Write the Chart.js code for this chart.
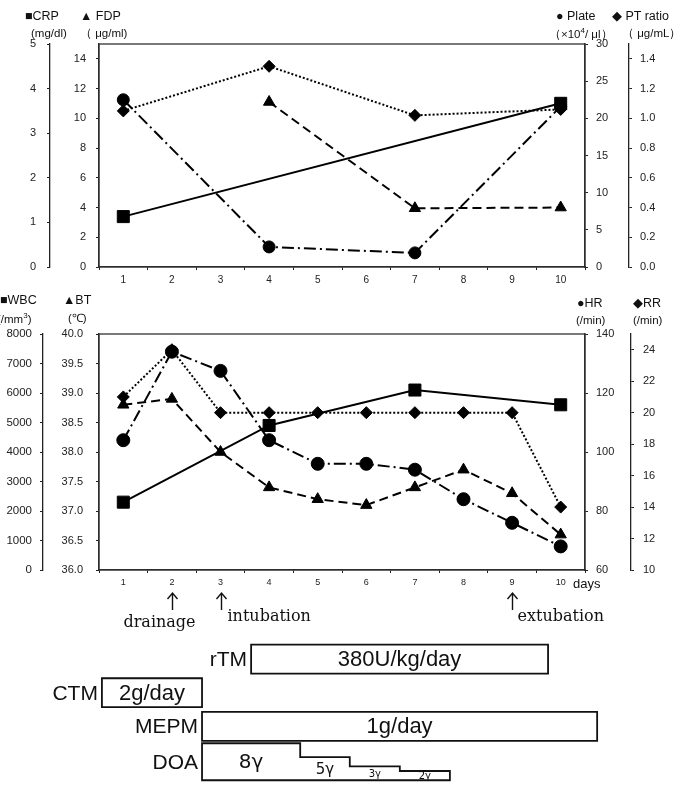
<!DOCTYPE html>
<html><head><meta charset="utf-8">
<script src="https://cdn.jsdelivr.net/npm/chart.js@4"></script>
<style>
html,body{margin:0;padding:0;background:#fff;}
#wrap{position:relative;width:678px;height:788px;overflow:hidden;background:#fff;font-family:'Liberation Sans',Arial,sans-serif;color:#111;}
canvas{position:absolute;left:0;}
.t{position:absolute;white-space:nowrap;line-height:1;}
.lg{font-size:12.5px;}
.un{font-size:11.5px;}
</style></head><body>
<div id="wrap">
<canvas id="c1" width="678" height="290" style="top:0"></canvas>
<canvas id="c2" width="678" height="315" style="top:285px"></canvas>
<canvas id="c3" width="678" height="203" style="top:585px"></canvas>

<span class="t lg" style="left:25px;top:10px">■CRP</span>
<span class="t lg" style="left:80px;top:10px">▲ FDP</span>
<span class="t un" style="left:31px;top:28px">(mg/dl)</span>
<span class="t un" style="left:80px;top:28px">（ μg/ml)</span>
<span class="t lg" style="left:556px;top:10px">● Plate</span>
<span class="t lg" style="left:612px;top:10px">◆ PT ratio</span>
<span class="t un" style="left:549px;top:27px">（×10<sup style="font-size:8px">4</sup>/ μl）</span>
<span class="t un" style="left:622px;top:28px">（ μg/mL）</span>

<span class="t lg" style="left:0px;top:294px">■WBC</span>
<span class="t lg" style="left:63px;top:294px">▲BT</span>
<span class="t un" style="left:-3px;top:312px">(/mm<sup style="font-size:8px">3</sup>)</span>
<span class="t un" style="left:68px;top:313px">(℃)</span>
<span class="t lg" style="left:577px;top:297px">●HR</span>
<span class="t lg" style="left:633px;top:297px">◆RR</span>
<span class="t un" style="left:576px;top:315px">(/min)</span>
<span class="t un" style="left:633px;top:315px">(/min)</span>
<span class="t" style="left:573px;top:577px;font-size:13px">days</span>
</div>
<script>
// ---------- data ----------
const days = ['1','2','3','4','5','6','7','8','9','10'];
// top chart
const crp   = [1.13, null, null, null, null, null, null, null, null, 3.67];
const fdp   = [null, null, null, 11.1, null, null, 3.95, null, null, 4.0];
const plate = [22.5, null, null, 2.7, null, null, 1.9, null, null, 21.6];
const ptRatio = [1.05, null, null, 1.35, null, null, 1.02, null, null, 1.06];
// bottom chart
const wbc = [2300, null, null, 4900, null, null, 6100, null, null, 5600];
const bt  = [38.8, 38.9, 38.0, 37.4, 37.2, 37.1, 37.4, 37.7, 37.3, 36.6];
const hr  = [104, 134, 127.5, 104, 96, 96, 94, 84, 76, 68];
const rr  = [21, 24, 20, 20, 20, 20, 20, 20, 20, 14];
// tick values
const crpTicks = [0,1,2,3,4,5];
const fdpTicks = [0,2,4,6,8,10,12,14];
const plateTicks = [0,5,10,15,20,25,30];
const ptTicks = [0,0.2,0.4,0.6,0.8,1.0,1.2,1.4];
const wbcTicks = [0,1000,2000,3000,4000,5000,6000,7000,8000];
const btTicks = [36,36.5,37,37.5,38,38.5,39,39.5,40];
const hrTicks = [60,80,100,120,140];
const rrTicks = [10,12,14,16,18,20,22,24];
// treatments (day positions)
const treatNames = ['rTM','CTM','MEPM'];
const treatStart = [3.63, 0.56, 2.62];
const treatEnd   = [9.74, 2.62, 10.75];
const treatDose  = ['380U/kg/day','2g/day','1g/day'];
const doaStart = [2.62, 4.64, 5.66, 6.69];
const doaEnd = 7.72;
const doaDose = [8,5,3,2];
const doaLabels = ['8γ','5γ','3γ','2γ'];
const eventDays = [2,3,9];
const eventLabels = ['drainage','intubation','extubation'];

// ---------- styles ----------
Chart.defaults.font.family = "'Liberation Sans', Arial, sans-serif";
Chart.defaults.color = '#222';
const INK = '#222';
const dashes = {solid:[], dashed:[9,5], dashdot:[12,4,2,4], dotted:[2,2]};

function yAxis(pos, min, max, tickVals, width, pad, fmt, fs) {
  return {
    type:'linear', position:pos, min:min, max:max,
    afterBuildTicks: s => { s.ticks = tickVals.map(v => ({value:v})); },
    afterFit: s => { s.width = width; },
    grid:{drawOnChartArea:false, drawTicks:true, tickLength:3, color:INK, lineWidth:1},
    border:{display:true, color:INK, width:1.3},
    ticks:{padding:pad, font:{size:fs || 11}, color:INK, callback: fmt || (v => String(v))}
  };
}
function xAxis(h, fs) {
  return {
    type:'category', offset:true,
    grid:{offset:true, drawOnChartArea:false, tickLength:3, color:INK},
    border:{display:true, color:INK, width:1.3},
    ticks:{font:{size:fs}, padding:4, color:INK, maxRotation:0, autoSkip:false},
    afterFit: s => { s.height = h; }
  };
}
function ds(data, axis, dash, style, radius) {
  return {data:data, yAxisID:axis, borderColor:'#000', backgroundColor:'#000',
    borderWidth:2, borderDash:dash, pointStyle:style, pointRadius:radius,
    pointBackgroundColor:'#000', pointBorderColor:'#000', pointBorderWidth:1,
    spanGaps:true, tension:0, fill:false};
}
const framePlugin = {
  id:'frame',
  beforeDatasetsDraw(chart) {
    const a = chart.chartArea, c = chart.ctx;
    c.save(); c.strokeStyle = '#333'; c.lineWidth = 1.3;
    c.strokeRect(a.left, a.top, a.right - a.left, a.bottom - a.top);
    c.restore();
  }
};
const common = {
  responsive:false, animation:false, devicePixelRatio:1, events:[],
  plugins:{legend:{display:false}, tooltip:{enabled:false}}
};

// ---------- top chart ----------
new Chart(document.getElementById('c1'), {
  type:'line',
  data:{labels:days, datasets:[
    ds(crp,'yCRP',dashes.solid,'rect',8.5),
    ds(fdp,'yFDP',dashes.dashed,'triangle',6.5),
    ds(plate,'yPlate',dashes.dashdot,'circle',6),
    ds(ptRatio,'yPT',dashes.dotted,'rectRot',6)
  ]},
  options:Object.assign({}, common, {
    layout:{padding:{top:44,left:0,right:0,bottom:0}},
    scales:{
      x: xAxis(23, 10),
      yFDP: yAxis('left',0,15,fdpTicks,49,10),
      yCRP: yAxis('left',0,5,crpTicks,50,11),
      yPlate: yAxis('right',0,30,plateTicks,44,8),
      yPT: yAxis('right',0,1.5,ptTicks,49,8, v => v.toFixed(1))
    }
  }),
  plugins:[framePlugin]
});

// ---------- bottom chart ----------
new Chart(document.getElementById('c2'), {
  type:'line',
  data:{labels:days, datasets:[
    ds(wbc,'yWBC',dashes.solid,'rect',8.5),
    ds(bt,'yBT',dashes.dashed,'triangle',6.5),
    ds(hr,'yHR',dashes.dashdot,'circle',6.5),
    ds(rr,'yRR',dashes.dotted,'rectRot',6)
  ]},
  options:Object.assign({}, common, {
    layout:{padding:{top:49,left:0,right:0,bottom:0}},
    scales:{
      x: xAxis(30, 9),
      yBT: yAxis('left',36,40,btTicks,56,13, v => v.toFixed(1)),
      yWBC: yAxis('left',0,8000,wbcTicks,43,8, null, 11.5),
      yHR: yAxis('right',60,140,hrTicks,46,8),
      yRR: yAxis('right',10,25,rrTicks,47,9)
    }
  }),
  plugins:[framePlugin]
});

// ---------- treatment chart ----------
const HALF = 0.43;          // box half height (rows)
const DOA_ROW = 3, DOA_BASE = 3.6, DOA_K = 0.1375;
function boxPts(s, e, r) {
  return [{x:s,y:r+HALF},{x:s,y:r-HALF},{x:e,y:r-HALF},{x:e,y:r+HALF},{x:s,y:r+HALF}];
}
function doaPts() {
  const p = [{x:doaStart[0], y:DOA_BASE}];
  for (let i = 0; i < doaStart.length; i++) {
    const top = DOA_BASE - doaDose[i]*DOA_K;
    const e = i < doaStart.length-1 ? doaStart[i+1] : doaEnd;
    p.push({x:doaStart[i], y:top}); p.push({x:e, y:top});
  }
  p.push({x:doaEnd, y:DOA_BASE}); p.push({x:doaStart[0], y:DOA_BASE});
  return p;
}
const boxDs = treatNames.map((n,i) => ({data:boxPts(treatStart[i], treatEnd[i], i)}));
boxDs.push({data:doaPts()});
boxDs.forEach(d => Object.assign(d, {showLine:true, borderColor:'#111', borderWidth:1.8,
  pointRadius:0, clip:false, fill:false, tension:0, borderJoinStyle:'miter', borderCapStyle:'square'}));

const eventStyle = [{align:'center', dx:-13, base:42}, {align:'left', dx:6, base:36}, {align:'left', dx:5, base:36}];
const doaFont = [20, 15, 10, 10];
const textPlugin = {
  id:'texts',
  afterDraw(chart) {
    const c = chart.ctx, xs = chart.scales.x, ys = chart.scales.y;
    c.save();
    c.fillStyle = '#111'; c.strokeStyle = '#111';
    c.textBaseline = 'middle';
    treatNames.forEach((n,i) => {
      const y = ys.getPixelForValue(i);
      c.font = "21px 'Liberation Sans', Arial, sans-serif";
      c.textAlign = 'right';
      c.fillText(n, xs.getPixelForValue(treatStart[i]) - 4, y + 1);
      c.font = "22px 'Liberation Sans', Arial, sans-serif";
      c.textAlign = 'center';
      c.fillText(treatDose[i], (xs.getPixelForValue(treatStart[i]) + xs.getPixelForValue(treatEnd[i]))/2, y + 1);
    });
    c.font = "21px 'Liberation Sans', Arial, sans-serif";
    c.textAlign = 'right';
    c.fillText('DOA', xs.getPixelForValue(doaStart[0]) - 4, ys.getPixelForValue(DOA_ROW + 0.1));
    c.textAlign = 'center';
    doaLabels.forEach((l,i) => {
      const e = i < doaStart.length-1 ? doaStart[i+1] : doaEnd;
      const top = DOA_BASE - doaDose[i]*DOA_K;
      c.font = doaFont[i] + "px 'DejaVu Sans', sans-serif";
      c.fillText(l, (xs.getPixelForValue(doaStart[i]) + xs.getPixelForValue(e))/2,
        (ys.getPixelForValue(top) + ys.getPixelForValue(DOA_BASE))/2 + 1);
    });
    const top = chart.chartArea.top;
    c.lineWidth = 1.4;
    c.font = "16px 'DejaVu Serif', serif";
    c.textBaseline = 'alphabetic';
    eventDays.forEach((d,i) => {
      const x = Math.round(xs.getPixelForValue(d)) + 0.5;
      c.beginPath();
      c.moveTo(x, top + 8); c.lineTo(x, top + 25);
      c.moveTo(x - 5, top + 14); c.lineTo(x, top + 8); c.lineTo(x + 5, top + 14);
      c.stroke();
      const st = eventStyle[i];
      c.textAlign = st.align;
      c.fillText(eventLabels[i], x + st.dx, top + st.base);
    });
    c.restore();
  }
};
new Chart(document.getElementById('c3'), {
  type:'scatter',
  data:{datasets:boxDs},
  options:Object.assign({}, common, {
    layout:{padding:{left:99,right:93,top:0,bottom:0}},
    scales:{
      x:{type:'linear', min:0.5, max:10.5, display:false},
      y:{type:'linear', min:-2.2, max:3.83, reverse:true, display:false}
    }
  }),
  plugins:[textPlugin]
});
</script>
</body></html>
